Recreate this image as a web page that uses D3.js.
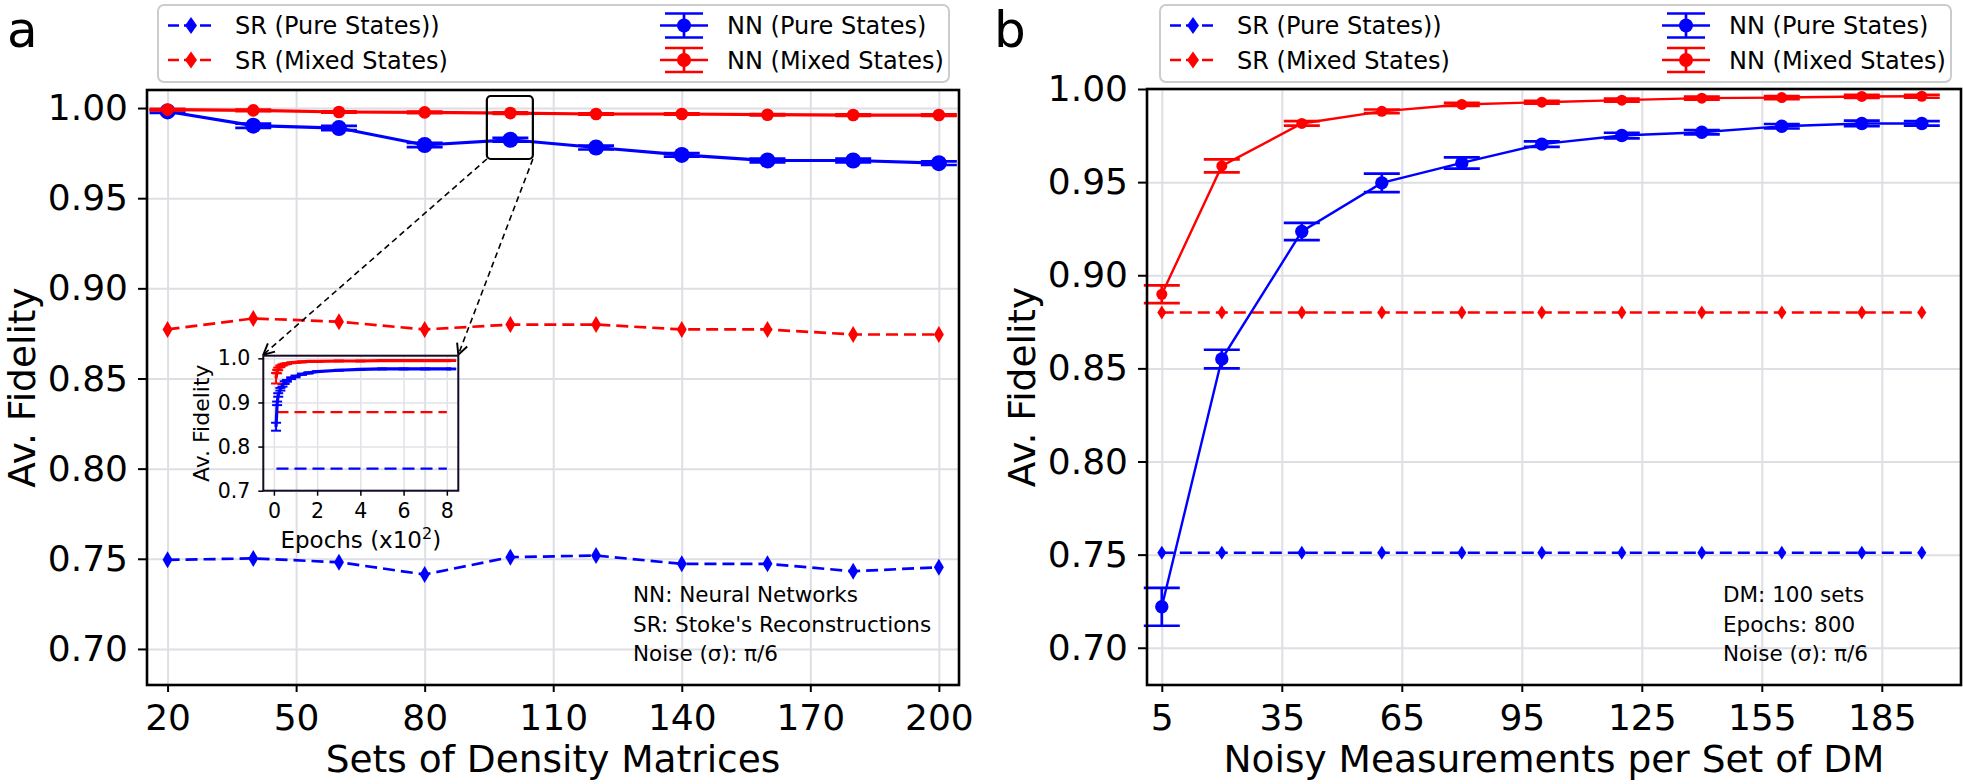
<!DOCTYPE html>
<html>
<head>
<meta charset="utf-8">
<script src="https://cdn.jsdelivr.net/npm/d3@7"></script>
<style>
  body { margin: 0; background: #fff; }
  text { font-family: "DejaVu Sans", sans-serif; }
</style>
</head>
<body>
<script>
// ---- panel a : sets of density matrices ----
var setsX      = [20, 40, 60, 80, 100, 120, 140, 160, 180, 200];
var aSrPure    = [0.7494, 0.7502, 0.7481, 0.7413, 0.7509, 0.7518, 0.7472, 0.7472, 0.7431, 0.7453];
var aSrMixed   = [0.8772, 0.8833, 0.8815, 0.8772, 0.8799, 0.8799, 0.8772, 0.8772, 0.8744, 0.8744];
var aNnPure    = [0.9981, 0.9902, 0.9889, 0.9795, 0.9824, 0.9781, 0.9740, 0.9709, 0.9709, 0.9694];
var aNnPureErr = [0.0008, 0.0012, 0.0012, 0.0012, 0.0011, 0.0011, 0.0010, 0.0010, 0.0010, 0.0010];
var aNnMixed   = [0.9991, 0.9987, 0.9978, 0.9976, 0.9972, 0.9967, 0.9967, 0.9963, 0.9961, 0.9961];
var aNnMixedErr= [0.0004, 0.0004, 0.0004, 0.0004, 0.0004, 0.0004, 0.0004, 0.0004, 0.0004, 0.0004];
var aXTicks    = [20, 50, 80, 110, 140, 170, 200];

// ---- panel b : noisy measurements per set ----
var measX      = [5, 20, 40, 60, 80, 100, 120, 140, 160, 180, 195];
var bSrPure    = [0.751, 0.751, 0.751, 0.751, 0.751, 0.751, 0.751, 0.751, 0.751, 0.751, 0.751];
var bSrMixed   = [0.880, 0.880, 0.880, 0.880, 0.880, 0.880, 0.880, 0.880, 0.880, 0.880, 0.880];
var bNnPure    = [0.722, 0.855, 0.9235, 0.9496, 0.9603, 0.9704, 0.975, 0.9768, 0.980, 0.9815, 0.9815];
var bNnPureErr = [0.0102, 0.005, 0.0046, 0.005, 0.003, 0.0015, 0.0015, 0.0012, 0.0012, 0.0015, 0.0012];
var bNnMixed   = [0.8898, 0.9587, 0.9815, 0.988, 0.9917, 0.9929, 0.994, 0.9951, 0.9954, 0.996, 0.9961];
var bNnMixedErr= [0.0048, 0.0035, 0.0012, 0.001, 0.0008, 0.0008, 0.0008, 0.0008, 0.0008, 0.0008, 0.0008];
var bXTicks    = [5, 35, 65, 95, 125, 155, 185];

var yTicks     = [0.70, 0.75, 0.80, 0.85, 0.90, 0.95, 1.00];

// ---- inset : training curve (epochs x10^2) ----
var insetEpochs   = [0.1, 0.15, 0.2, 0.3, 0.4, 0.5, 0.6, 0.8, 1.0, 1.3, 1.6, 2.0, 3.0, 4.0, 5.0, 6.0, 7.0, 8.2];
var insetPure     = [0.845, 0.898, 0.917, 0.930, 0.939, 0.945, 0.949, 0.955, 0.959, 0.964, 0.967, 0.970, 0.973, 0.975, 0.976, 0.976, 0.976, 0.976];
var insetPureErr  = [0.009, 0.004, 0.004, 0.003, 0.003, 0.003, 0.002, 0.002, 0.002, 0.0015, 0.0015, 0.001, 0.001, 0.001, 0.001, 0.001, 0.001, 0.001];
var insetMixed    = [0.955, 0.970, 0.976, 0.982, 0.985, 0.987, 0.988, 0.990, 0.991, 0.992, 0.993, 0.993, 0.994, 0.994, 0.995, 0.995, 0.995, 0.995];
var insetMixedErr = [0.012, 0.004, 0.003, 0.002, 0.0015, 0.001, 0.001, 0.001, 0.001, 0.001, 0.001, 0.001, 0.001, 0.001, 0.001, 0.001, 0.001, 0.001];
var insetSrX      = [0.12, 8.0];
var insetSrPure   = [0.75, 0.75];
var insetSrMixed  = [0.878, 0.878];
var insetXTicks   = [0, 2, 4, 6, 8];
var insetYTicks   = [0.7, 0.8, 0.9, 1.0];

var legendLabels = ["SR (Pure States))", "SR (Mixed States)", "NN (Pure States)", "NN (Mixed States)"];
var blue = "#0000ff", red = "#ff0000";

var svg = d3.select("body").append("svg")
    .attr("width", 1963)
    .attr("height", 784);

var defs = svg.append("defs");
defs.append("marker")
    .attr("id", "arrow")
    .attr("viewBox", "0 0 12 12")
    .attr("refX", 11).attr("refY", 6)
    .attr("markerWidth", 13).attr("markerHeight", 13)
    .attr("markerUnits", "userSpaceOnUse")
    .attr("orient", "auto")
    .append("path")
    .attr("d", "M1,1 L11,6 L1,11")
    .attr("fill", "none")
    .attr("stroke", "black")
    .attr("stroke-width", 1.8);

function diamond(h, w) {
    return "M0," + (-h) + "L" + w + ",0L0," + h + "L" + (-w) + ",0Z";
}

function styleAxis(s, fs) {
    s.select(".domain").remove();
    s.selectAll(".tick line").attr("stroke", "black").attr("stroke-width", 2);
    s.selectAll(".tick text").attr("fill", "black").style("font-size", fs + "px")
        .style("font-family", "DejaVu Sans");
}

function drawGrid(g, x, y, xt, yt, box, col, w) {
    g.append("g").attr("transform", "translate(0," + box.bottom + ")")
        .call(d3.axisBottom(x).tickValues(xt).tickSize(-(box.bottom - box.top)).tickFormat(""))
        .call(function (s) {
            s.select(".domain").remove();
            s.selectAll("line").attr("stroke", col).attr("stroke-width", w);
        });
    g.append("g").attr("transform", "translate(" + box.left + ",0)")
        .call(d3.axisLeft(y).tickValues(yt).tickSize(-(box.right - box.left)).tickFormat(""))
        .call(function (s) {
            s.select(".domain").remove();
            s.selectAll("line").attr("stroke", col).attr("stroke-width", w);
        });
}

function srSeries(g, x, y, xs, vs, color, lw, mh, mw) {
    var line = d3.line().x(function (d, i) { return x(xs[i]); }).y(function (d) { return y(d); });
    g.append("path").datum(vs)
        .attr("d", line)
        .attr("fill", "none")
        .attr("stroke", color)
        .attr("stroke-width", lw)
        .attr("stroke-dasharray", "12,6");
    if (mh > 0) {
        g.selectAll(null).data(vs).enter().append("path")
            .attr("d", diamond(mh, mw))
            .attr("transform", function (d, i) { return "translate(" + x(xs[i]) + "," + y(d) + ")"; })
            .attr("fill", color);
    }
}

function nnSeries(g, x, y, xs, vs, es, color, lw, r, cap, capw) {
    var line = d3.line().x(function (d, i) { return x(xs[i]); }).y(function (d) { return y(d); });
    g.append("path").datum(vs)
        .attr("d", line)
        .attr("fill", "none")
        .attr("stroke", color)
        .attr("stroke-width", lw);
    vs.forEach(function (v, i) {
        var cx = x(xs[i]);
        g.append("line")
            .attr("x1", cx).attr("x2", cx)
            .attr("y1", y(v - es[i])).attr("y2", y(v + es[i]))
            .attr("stroke", color).attr("stroke-width", capw);
        [v - es[i], v + es[i]].forEach(function (e) {
            g.append("line")
                .attr("x1", cx - cap).attr("x2", cx + cap)
                .attr("y1", y(e)).attr("y2", y(e))
                .attr("stroke", color).attr("stroke-width", capw);
        });
    });
    if (r > 0) {
        g.selectAll(null).data(vs).enter().append("circle")
            .attr("cx", function (d, i) { return x(xs[i]); })
            .attr("cy", function (d) { return y(d); })
            .attr("r", r)
            .attr("fill", color);
    }
}

function legend(x0) {
    var g = svg.append("g");
    g.append("rect")
        .attr("x", x0).attr("y", 5)
        .attr("width", 791).attr("height", 77)
        .attr("rx", 6)
        .attr("fill", "white").attr("fill-opacity", 0.8)
        .attr("stroke", "#cccccc").attr("stroke-width", 2);
    var rows = [25.5, 60];
    var colors = [blue, red];
    for (var i = 0; i < 2; i++) {
        // SR handle
        g.append("line")
            .attr("x1", x0 + 10).attr("x2", x0 + 56)
            .attr("y1", rows[i]).attr("y2", rows[i])
            .attr("stroke", colors[i]).attr("stroke-width", 2.7)
            .attr("stroke-dasharray", "11,5");
        g.append("path").attr("d", diamond(8.5, 6))
            .attr("transform", "translate(" + (x0 + 33) + "," + rows[i] + ")")
            .attr("fill", colors[i]);
        g.append("text")
            .attr("x", x0 + 77).attr("y", rows[i] + 8.8)
            .text(legendLabels[i])
            .style("font-size", "24px");
        // NN handle
        var cx = x0 + 526;
        g.append("line")
            .attr("x1", x0 + 502).attr("x2", x0 + 550)
            .attr("y1", rows[i]).attr("y2", rows[i])
            .attr("stroke", colors[i]).attr("stroke-width", 2.7);
        g.append("line")
            .attr("x1", cx).attr("x2", cx)
            .attr("y1", rows[i] - 12).attr("y2", rows[i] + 12)
            .attr("stroke", colors[i]).attr("stroke-width", 2.7);
        [-12, 12].forEach(function (dy) {
            g.append("line")
                .attr("x1", cx - 19).attr("x2", cx + 19)
                .attr("y1", rows[i] + dy).attr("y2", rows[i] + dy)
                .attr("stroke", colors[i]).attr("stroke-width", 2.7);
        });
        g.append("circle").attr("cx", cx).attr("cy", rows[i]).attr("r", 7).attr("fill", colors[i]);
        g.append("text")
            .attr("x", x0 + 569).attr("y", rows[i] + 8.8)
            .text(legendLabels[i + 2])
            .style("font-size", "24px");
    }
}

function panel(o) {
    var g = svg.append("g");
    var x = d3.scaleLinear().domain(o.xDomain).range([o.box.left, o.box.right]);
    var y = d3.scaleLinear().domain(o.yDomain).range([o.box.bottom, o.box.top]);
    drawGrid(g, x, y, o.xTicks, yTicks, o.box, "#dedee5", 2);

    srSeries(g, x, y, o.xs, o.srPure, blue, o.dashW, o.mh, o.mw);
    srSeries(g, x, y, o.xs, o.srMixed, red, o.dashW, o.mh, o.mw);
    nnSeries(g, x, y, o.xs, o.nnPure, o.nnPureErr, blue, o.lw, o.rBlue, 18, 2.7);
    nnSeries(g, x, y, o.xs, o.nnMixed, o.nnMixedErr, red, o.lw, o.rRed, 18, 2.7);

    g.append("rect")
        .attr("x", o.box.left).attr("y", o.box.top)
        .attr("width", o.box.right - o.box.left)
        .attr("height", o.box.bottom - o.box.top)
        .attr("fill", "none").attr("stroke", "black").attr("stroke-width", 2.6);

    g.append("g").attr("transform", "translate(0," + o.box.bottom + ")")
        .call(d3.axisBottom(x).tickValues(o.xTicks).tickSize(7).tickPadding(12.4).tickFormat(d3.format("d")))
        .call(function (s) { styleAxis(s, 36); });
    g.append("g").attr("transform", "translate(" + o.box.left + ",0)")
        .call(d3.axisLeft(y).tickValues(yTicks).tickSize(9).tickPadding(10).tickFormat(d3.format(".2f")))
        .call(function (s) { styleAxis(s, 36); });

    g.append("text")
        .attr("x", (o.box.left + o.box.right) / 2).attr("y", 772)
        .attr("text-anchor", "middle")
        .style("font-size", "37.5px")
        .text(o.xLabel);
    g.append("text")
        .attr("transform", "translate(" + (o.box.left - 112) + "," + ((o.box.top + o.box.bottom) / 2) + ") rotate(-90)")
        .attr("text-anchor", "middle")
        .style("font-size", "37.5px")
        .text("Av. Fidelity");

    var notes = g.append("g");
    o.notes.forEach(function (t, i) {
        notes.append("text")
            .attr("x", o.noteX).attr("y", [602.3, 631.7, 660.7][i])
            .style("font-size", "21.5px")
            .text(t);
    });

    g.append("text")
        .attr("x", o.letterX).attr("y", o.letterY)
        .style("font-size", "50px")
        .text(o.letter);
    return { x: x, y: y };
}

var pa = panel({
    box: { left: 147, right: 959, top: 90, bottom: 685 },
    xDomain: [15.2, 204.7], yDomain: [0.68, 1.01],
    xTicks: aXTicks, xs: setsX,
    srPure: aSrPure, srMixed: aSrMixed,
    nnPure: aNnPure, nnPureErr: aNnPureErr, nnMixed: aNnMixed, nnMixedErr: aNnMixedErr,
    lw: 3.2, dashW: 2.7, mh: 8.5, mw: 5, rBlue: 8, rRed: 6.3,
    xLabel: "Sets of Density Matrices",
    notes: ["NN: Neural Networks", "SR: Stoke's Reconstructions", "Noise (σ): π/6"],
    noteX: 633,
    letter: "a", letterX: 7, letterY: 47
});

var pb = panel({
    box: { left: 1147, right: 1961, top: 89, bottom: 685 },
    xDomain: [1.3, 204.8], yDomain: [0.68, 1.00],
    xTicks: bXTicks, xs: measX,
    srPure: bSrPure, srMixed: bSrMixed,
    nnPure: bNnPure, nnPureErr: bNnPureErr, nnMixed: bNnMixed, nnMixedErr: bNnMixedErr,
    lw: 2.4, dashW: 2.4, mh: 7, mw: 4.5, rBlue: 6.7, rRed: 5.5,
    xLabel: "Noisy Measurements per Set of DM",
    notes: ["DM: 100 sets", "Epochs: 800", "Noise (σ): π/6"],
    noteX: 1723,
    letter: "b", letterX: 994, letterY: 47
});

legend(158);
legend(1160);

// ---- zoom box and inset in panel a ----
var zx = pa.x(100), zb = { left: zx - 23.5, right: zx + 22.5, top: 96, bottom: 159 };
svg.append("rect")
    .attr("x", zb.left).attr("y", zb.top)
    .attr("width", zb.right - zb.left).attr("height", zb.bottom - zb.top)
    .attr("rx", 4)
    .attr("fill", "none").attr("stroke", "black").attr("stroke-width", 2.2);

var ib = { left: 263.3, right: 458.3, top: 355.7, bottom: 490.7 };
[[zb.left, ib.left], [zb.right, ib.right]].forEach(function (p) {
    svg.append("line")
        .attr("x1", p[0]).attr("y1", zb.bottom)
        .attr("x2", p[1]).attr("y2", ib.top - 1)
        .attr("stroke", "black").attr("stroke-width", 1.6)
        .attr("stroke-dasharray", "6,4")
        .attr("marker-end", "url(#arrow)");
});

var ig = svg.append("g");
var ix = d3.scaleLinear().domain([-0.49, 8.53]).range([ib.left, ib.right]);
var iy = d3.scaleLinear().domain([0.7, 1.006]).range([ib.bottom, ib.top]);
drawGrid(ig, ix, iy, insetXTicks, insetYTicks, ib, "#e2e2e8", 1.5);
srSeries(ig, ix, iy, insetSrX, insetSrMixed, red, 2.2, 0, 0);
srSeries(ig, ix, iy, insetSrX, insetSrPure, blue, 2.2, 0, 0);
nnSeries(ig, ix, iy, insetEpochs, insetPure, insetPureErr, blue, 3.2, 0, 5, 2);
nnSeries(ig, ix, iy, insetEpochs, insetMixed, insetMixedErr, red, 3.2, 0, 5, 2);
ig.append("rect")
    .attr("x", ib.left).attr("y", ib.top)
    .attr("width", ib.right - ib.left).attr("height", ib.bottom - ib.top)
    .attr("fill", "none").attr("stroke", "#160a26").attr("stroke-width", 2);
ig.append("g").attr("transform", "translate(0," + ib.bottom + ")")
    .call(d3.axisBottom(ix).tickValues(insetXTicks).tickSize(5).tickPadding(7.5).tickFormat(d3.format("d")))
    .call(function (s) { styleAxis(s, 20.5); s.selectAll(".tick line").attr("stroke-width", 1.5); });
ig.append("g").attr("transform", "translate(" + ib.left + ",0)")
    .call(d3.axisLeft(iy).tickValues(insetYTicks).tickSize(5).tickPadding(8).tickFormat(d3.format(".1f")))
    .call(function (s) { styleAxis(s, 20.5); s.selectAll(".tick line").attr("stroke-width", 1.5); });
var il = ig.append("text")
    .attr("x", (ib.left + ib.right) / 2).attr("y", 548)
    .attr("text-anchor", "middle")
    .style("font-size", "23px");
il.append("tspan").text("Epochs (x10");
il.append("tspan").attr("dy", -9).style("font-size", "16px").text("2");
il.append("tspan").attr("dy", 9).text(")");
ig.append("text")
    .attr("transform", "translate(208.5," + ((ib.top + ib.bottom) / 2) + ") rotate(-90)")
    .attr("text-anchor", "middle")
    .style("font-size", "22px")
    .text("Av. Fidelity");
</script>
</body>
</html>
